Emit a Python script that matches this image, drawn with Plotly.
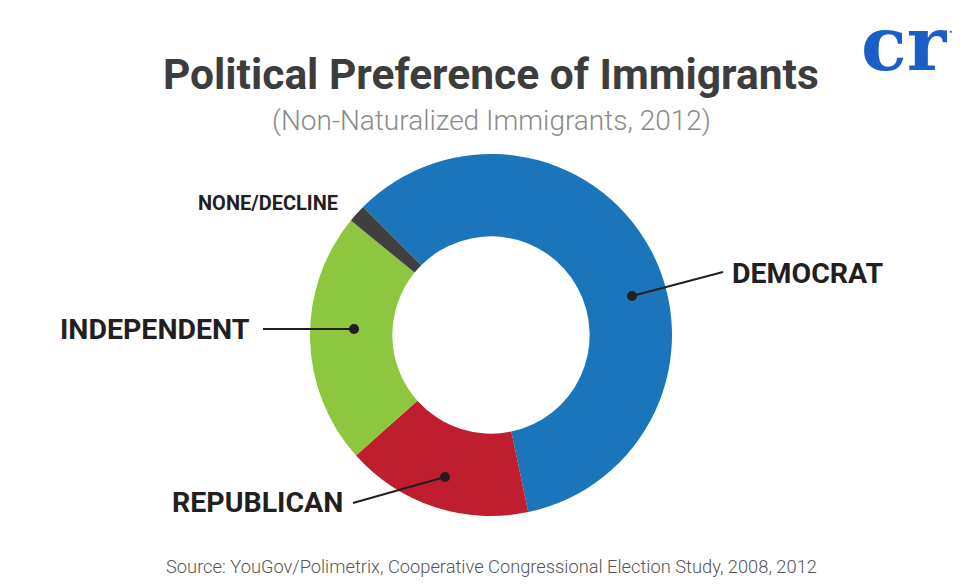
"""Donut chart: political preference of non-naturalized immigrants (2012)."""

import plotly.graph_objects as go

# the page body adds an 8px margin, so the figure sits at (8, 8) in the window
OFF = 8
W, H = 980 - 2 * OFF, 588 - 2 * OFF

PARTIES = ["DEMOCRAT", "REPUBLICAN", "INDEPENDENT", "NONE/DECLINE"]
SHARES = [59.2, 16.7, 22.5, 1.6]
COLORS = ["#1b75bb", "#be1e2d", "#8dc63f", "#404040"]

TITLE = "Political Preference of Immigrants"
SUBTITLE = "(Non-Naturalized Immigrants, 2012)"
SOURCE = "Source: YouGov/Polimetrix, Cooperative Congressional Election Study, 2008, 2012"

FONT = "Roboto, Liberation Sans, sans-serif"
INK = "#231f20"


def px(x):
    """Window pixel x -> paper fraction."""
    return (x - OFF) / W


def py(y):
    """Window pixel y (from top) -> paper fraction."""
    return 1 - (y - OFF) / H


# donut geometry in window pixels (centre and outer radius)
cx, cy, R = 491, 335, 181

fig = go.Figure()
fig.add_pie(
    labels=PARTIES,
    values=SHARES,
    marker={"colors": COLORS, "line": {"width": 0}},
    hole=0.545,
    sort=False,
    direction="clockwise",
    rotation=315,
    textinfo="none",
    hoverinfo="label+percent",
    showlegend=False,
    domain={"x": [px(cx - R), px(cx + R)], "y": [py(cy + R), py(cy - R)]},
)

annotations = [
    dict(x=px(491), y=py(75), text=f"<b>{TITLE}</b>", font=dict(size=42.5, color="#3d3d3d", family=FONT)),
    dict(x=px(491), y=py(120), text=SUBTITLE, font=dict(size=28, color="#8a8a8a", family=FONT, weight=300)),
    dict(x=px(491), y=py(566), text=SOURCE, font=dict(size=18.3, color="#555555", family=FONT, weight=300)),
    # slice labels
    dict(x=px(730), y=py(273), text="<b>DEMOCRAT</b>", xanchor="left",
         font=dict(size=28.5, color=INK, family=FONT)),
    dict(x=px(252), y=py(329), text="<b>INDEPENDENT</b>", xanchor="right",
         font=dict(size=28.5, color=INK, family=FONT)),
    dict(x=px(345), y=py(502), text="<b>REPUBLICAN</b>", xanchor="right",
         font=dict(size=28.5, color=INK, family=FONT)),
    dict(x=px(340), y=py(203), text="<b>NONE/DECLINE</b>", xanchor="right",
         font=dict(size=20, color=INK, family=FONT)),
    # logo
    dict(x=px(904), y=py(44), text="<b>cr</b>",
         font=dict(size=75, color="#1a5fc8", family="DejaVu Serif, Liberation Serif, serif")),
    dict(x=px(950), y=py(31), text="●", font=dict(size=5, color="#1a5fc8")),
]
for a in annotations:
    a.setdefault("xanchor", "center")
    a.update(xref="paper", yref="paper", showarrow=False, yanchor="middle")

# leader lines: (dot x, dot y, line end x, line end y)
leaders = [(632, 296, 723, 272), (354, 329, 263, 329), (445, 477, 353, 503)]
shapes = []
for x0, y0, x1, y1 in leaders:
    shapes.append(dict(type="line", xref="paper", yref="paper",
                       x0=px(x0), y0=py(y0), x1=px(x1), y1=py(y1),
                       line=dict(color=INK, width=2)))
    shapes.append(dict(type="circle", xref="paper", yref="paper",
                       x0=px(x0 - 5), y0=py(y0 + 5), x1=px(x0 + 5), y1=py(y0 - 5),
                       fillcolor=INK, line=dict(width=0)))

fig.update_layout(
    width=W,
    height=H,
    margin=dict(l=0, r=0, t=0, b=0),
    paper_bgcolor="white",
    plot_bgcolor="white",
    annotations=annotations,
    shapes=shapes,
)

fig.write_html("out.html")
